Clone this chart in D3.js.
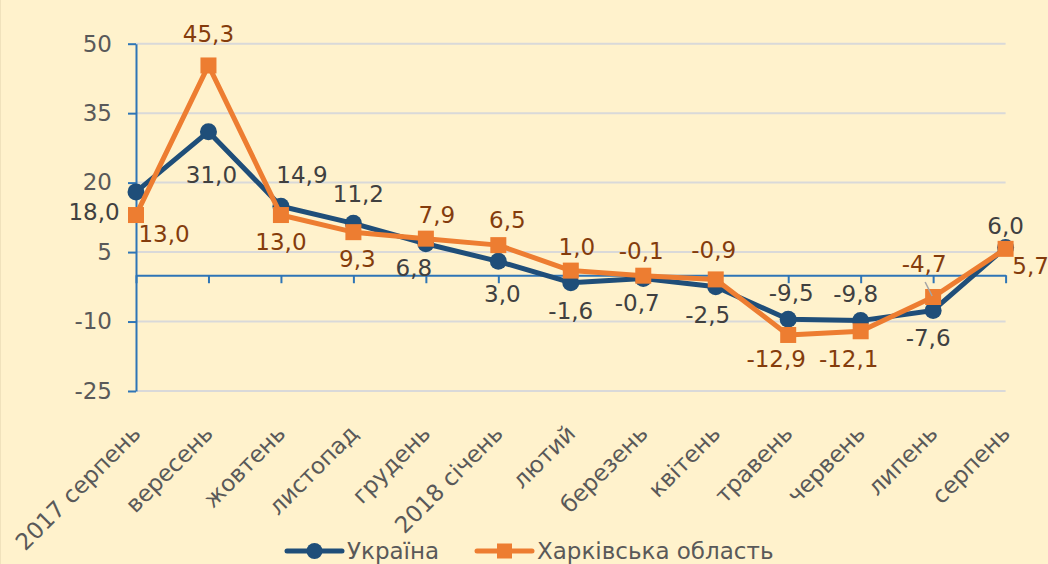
<!DOCTYPE html>
<html>
<head>
<meta charset="utf-8">
<script src="https://cdnjs.cloudflare.com/ajax/libs/d3/7.8.5/d3.min.js"></script>
<style>
	html, body {margin:0; padding:0; background:#FFF2CC;}
	svg {display:block;}
</style>
</head>
<body>
<div id="chart"></div>
<script>
// data
const months = ['2017 серпень', 'вересень', 'жовтень', 'листопад', 'грудень', '2018 січень', 'лютий',
	'березень', 'квітень', 'травень', 'червень', 'липень', 'серпень'];
const ukraineVals = [18.0, 31.0, 14.9, 11.2, 6.8, 3.0, -1.6, -0.7, -2.5, -9.5, -9.8, -7.6, 6.0];
const kharkivVals = [13.0, 45.3, 13.0, 9.3, 7.9, 6.5, 1.0, -0.1, -0.9, -12.9, -12.1, -4.7, 5.7];
const yTicks = [-25, -10, 5, 20, 35, 50];
const seriesNames = ['Україна', 'Харківська область'];

// label nudges in px (dx, dy from the marker), placed by hand like in the original
const ukraineLabelOffsets = [[-42,20],[3,43],[21,-31],[5,-29],[-12,24],[4,33],[0,28],[-6,24],[-8,28],[3,-26],[-5,-27],[-5,28],[0,-21]];
const kharkivLabelOffsets = [[28,19],[0,-32],[0,27],[4,27],[11,-24],[9,-25],[6,-24],[-2,-25],[-2,-29],[-12,24],[-12,28],[-9,-33],[25,17]];

const W = 1048, H = 564,
	margin = {top:43.7, right:42.4, bottom:173, left:136},
	fontFamily = '"DejaVu Sans", Verdana, sans-serif',
	fontSize = 23,
	axisColor = '#2E75B6',
	gridColor = '#D9D9D9',
	textGrey = '#595959',
	blue = '#1F4E79',
	orange = '#ED7D31';

// comma decimals, plain hyphen for negatives
const fmt = d => d3.format('.1f')(d).replace('.', ',').replace('−', '-');

let svg = d3.select('#chart').append('svg')
	.attr('width', W)
	.attr('height', H)
	.style('font-family', fontFamily);

svg.append('rect').attr('width', W).attr('height', H).style('fill', '#FFF2CC');
svg.append('line').attr('x1', 0.5).attr('x2', 0.5).attr('y1', 0).attr('y2', H)
	.attr('stroke', '#F0E2BC').attr('stroke-width', 1);

let x = d3.scalePoint().domain(months).range([margin.left, W - margin.right]);
let y = d3.scaleLinear().domain([-25, 50]).range([H - margin.bottom, margin.top]);

// gridlines
svg.append('g')
	.selectAll('line')
	.data(yTicks)
	.join('line')
	.attr('x1', margin.left)
	.attr('x2', W - margin.right)
	.attr('y1', d => y(d))
	.attr('y2', d => y(d))
	.attr('stroke', gridColor)
	.attr('stroke-width', 2);

// y axis
let yAxisG = svg.append('g')
	.attr('transform', 'translate(' + margin.left + ',0)')
	.call(d3.axisLeft(y).tickValues(yTicks).tickFormat(d => String(d)).tickSize(8).tickPadding(16).tickSizeOuter(0));
yAxisG.select('.domain').attr('stroke', axisColor).attr('stroke-width', 2);
yAxisG.selectAll('.tick line').attr('stroke', axisColor).attr('stroke-width', 2);
yAxisG.selectAll('.tick text')
	.style('font-size', fontSize + 'px')
	.style('font-family', fontFamily)
	.attr('fill', textGrey);

// x axis along zero
let xAxisG = svg.append('g')
	.attr('transform', 'translate(0,' + y(0) + ')')
	.call(d3.axisBottom(x).tickSize(8).tickSizeOuter(0).tickFormat(''));
xAxisG.select('.domain').attr('stroke', axisColor).attr('stroke-width', 2);
xAxisG.selectAll('.tick line').attr('stroke', axisColor).attr('stroke-width', 2);

// category labels, rotated
svg.append('g')
	.selectAll('text')
	.data(months)
	.join('text')
	.attr('transform', d => 'translate(' + (x(d) + 6) + ',' + 435 + ') rotate(-45)')
	.attr('text-anchor', 'end')
	.style('font-size', fontSize + 'px')
	.attr('fill', textGrey)
	.text(d => d);

let line = d3.line()
	.x((d, i) => x(months[i]))
	.y(d => y(d));

function drawSeries(vals, color, markerType){
	let g = svg.append('g');
	g.append('path')
		.datum(vals)
		.attr('d', line)
		.attr('fill', 'none')
		.attr('stroke', color)
		.attr('stroke-width', 5)
		.attr('stroke-linejoin', 'round');
	if(markerType === 'circle'){
		g.selectAll('circle')
			.data(vals)
			.join('circle')
			.attr('cx', (d, i) => x(months[i]))
			.attr('cy', d => y(d))
			.attr('r', 8.5)
			.attr('fill', color);
	}else{
		g.selectAll('rect')
			.data(vals)
			.join('rect')
			.attr('x', (d, i) => x(months[i]) - 8)
			.attr('y', d => y(d) - 8)
			.attr('width', 16)
			.attr('height', 16)
			.attr('fill', color);
	}
}

function drawLabels(vals, offsets, color){
	svg.append('g')
		.selectAll('text')
		.data(vals)
		.join('text')
		.attr('x', (d, i) => x(months[i]) + offsets[i][0])
		.attr('y', (d, i) => y(d) + offsets[i][1])
		.attr('dy', '0.35em')
		.attr('text-anchor', 'middle')
		.style('font-size', fontSize + 'px')
		.attr('fill', color)
		.text(fmt);
}

drawSeries(ukraineVals, blue, 'circle');
drawSeries(kharkivVals, orange, 'square');

// leader line for the moved -4,7 label
let li = 11;
svg.append('line')
	.attr('x1', x(months[li]) - 8)
	.attr('y1', y(kharkivVals[li]) - 15)
	.attr('x2', x(months[li]) - 1)
	.attr('y2', y(kharkivVals[li]) - 1)
	.attr('stroke', '#A6A6A6')
	.attr('stroke-width', 1.5);

drawLabels(ukraineVals, ukraineLabelOffsets, '#404040');
drawLabels(kharkivVals, kharkivLabelOffsets, '#843C0C');

// legend
let legendG = svg.append('g').attr('transform', 'translate(0,551)');
let legendItems = [
	{name: seriesNames[0], color: blue, marker: 'circle', x0: 287},
	{name: seriesNames[1], color: orange, marker: 'square', x0: 477}
];
legendItems.forEach(function(it){
	let g = legendG.append('g').attr('transform', 'translate(' + it.x0 + ',0)');
	g.append('line')
		.attr('x1', 0).attr('x2', 55)
		.attr('stroke', it.color)
		.attr('stroke-width', 5)
		.attr('stroke-linecap', 'round');
	if(it.marker === 'circle'){
		g.append('circle').attr('cx', 27.5).attr('r', 8).attr('fill', it.color);
	}else{
		g.append('rect').attr('x', 20).attr('y', -7.5).attr('width', 15).attr('height', 15).attr('fill', it.color);
	}
	g.append('text')
		.attr('x', 60)
		.attr('dy', '0.35em')
		.style('font-size', fontSize + 'px')
		.attr('fill', textGrey)
		.text(it.name);
});
</script>
</body>
</html>
